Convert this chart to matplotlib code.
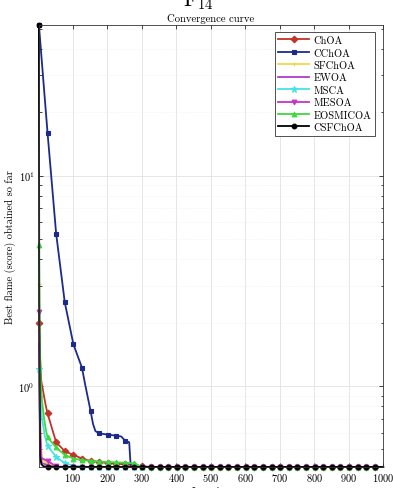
import matplotlib
matplotlib.use("Agg")
import matplotlib.pyplot as plt

plt.rcParams["font.family"] = ["cmr10", "DejaVu Serif"]
plt.rcParams["mathtext.fontset"] = "cm"
plt.rcParams["axes.formatter.use_mathtext"] = True

# Iterations where every curve is sampled and marked (every 25th iteration) plus the last one
GRID = list(range(1, 1001, 25)) + [1000]

NAMES = ["ChOA", "CChOA", "SFChOA", "EWOA", "MSCA", "MESOA", "EOSMICOA", "CSFChOA"]
COLORS = ["#c0342a", "#1c2a8c", "#f0d84a", "#b03cc8", "#45e3e3", "#c832c8", "#3fd83f", "#000000"]
MARKERS = ["D", "s", "+", "None", "*", "v", "^", "o"]

# Best fitness on the grid iterations (41 values each)
choa_grid = [2.0, 0.74, 0.54, 0.49, 0.47, 0.452, 0.44, 0.435, 0.43, 0.427, 0.424, 0.42, 0.415,
             0.412, 0.412, 0.412, 0.412, 0.412, 0.412, 0.412, 0.412, 0.412, 0.412, 0.412,
             0.412, 0.412, 0.412, 0.412, 0.412, 0.412, 0.412, 0.412, 0.412, 0.412, 0.412,
             0.412, 0.412, 0.412, 0.412, 0.412, 0.412]
cchoa_grid = [52.0, 16.0, 5.3, 2.5, 1.58, 1.22, 0.76, 0.595, 0.587, 0.58, 0.55, 0.412, 0.412,
              0.412, 0.412, 0.412, 0.412, 0.412, 0.412, 0.412, 0.412, 0.412, 0.412, 0.412,
              0.412, 0.412, 0.412, 0.412, 0.412, 0.412, 0.412, 0.412, 0.412, 0.412, 0.412,
              0.412, 0.412, 0.412, 0.412, 0.412, 0.412]
sfchoa_grid = [3.06, 0.425, 0.412, 0.412, 0.412, 0.412, 0.412, 0.412, 0.412, 0.412, 0.412,
               0.412, 0.412, 0.412, 0.412, 0.412, 0.412, 0.412, 0.412, 0.412, 0.412, 0.412,
               0.412, 0.412, 0.412, 0.412, 0.412, 0.412, 0.412, 0.412, 0.412, 0.412, 0.412,
               0.412, 0.412, 0.412, 0.412, 0.412, 0.412, 0.412, 0.412]
ewoa_grid = [1.6, 0.42, 0.412, 0.412, 0.412, 0.412, 0.412, 0.412, 0.412, 0.412, 0.412,
             0.412, 0.412, 0.412, 0.412, 0.412, 0.412, 0.412, 0.412, 0.412, 0.412, 0.412,
             0.412, 0.412, 0.412, 0.412, 0.412, 0.412, 0.412, 0.412, 0.412, 0.412, 0.412,
             0.412, 0.412, 0.412, 0.412, 0.412, 0.412, 0.412, 0.412]
msca_grid = [1.2, 0.52, 0.46, 0.43, 0.418, 0.414, 0.412, 0.412, 0.412, 0.412, 0.412,
             0.412, 0.412, 0.412, 0.412, 0.412, 0.412, 0.412, 0.412, 0.412, 0.412, 0.412,
             0.412, 0.412, 0.412, 0.412, 0.412, 0.412, 0.412, 0.412, 0.412, 0.412, 0.412,
             0.412, 0.412, 0.412, 0.412, 0.412, 0.412, 0.412, 0.412]
mesoa_grid = [2.25, 0.44, 0.415, 0.412, 0.412, 0.412, 0.412, 0.412, 0.412, 0.412, 0.412,
              0.412, 0.412, 0.412, 0.412, 0.412, 0.412, 0.412, 0.412, 0.412, 0.412, 0.412,
              0.412, 0.412, 0.412, 0.412, 0.412, 0.412, 0.412, 0.412, 0.412, 0.412, 0.412,
              0.412, 0.412, 0.412, 0.412, 0.412, 0.412, 0.412, 0.412]
eosmicoa_grid = [4.7, 0.57, 0.51, 0.47, 0.452, 0.444, 0.44, 0.437, 0.435, 0.433, 0.432, 0.428,
                 0.413, 0.412, 0.412, 0.412, 0.412, 0.412, 0.412, 0.412, 0.412, 0.412, 0.412,
                 0.412, 0.412, 0.412, 0.412, 0.412, 0.412, 0.412, 0.412, 0.412, 0.412, 0.412,
                 0.412, 0.412, 0.412, 0.412, 0.412, 0.412, 0.412]
csfchoa_grid = [52.0, 0.412, 0.412, 0.412, 0.412, 0.412, 0.412, 0.412, 0.412, 0.412, 0.412,
                0.412, 0.412, 0.412, 0.412, 0.412, 0.412, 0.412, 0.412, 0.412, 0.412, 0.412,
                0.412, 0.412, 0.412, 0.412, 0.412, 0.412, 0.412, 0.412, 0.412, 0.412, 0.412,
                0.412, 0.412, 0.412, 0.412, 0.412, 0.412, 0.412, 0.412]

# Extra samples between grid iterations, where the curves bend sharply
choa_extra_it = [4, 8, 14, 20]
choa_extra_val = [1.4, 1.05, 0.93, 0.82]
cchoa_extra_it = [135, 140, 158, 165, 240, 263, 266, 268]
cchoa_extra_val = [1.02, 0.93, 0.66, 0.61, 0.575, 0.54, 0.45, 0.412]
sfchoa_extra_it = [3, 6, 10]
sfchoa_extra_val = [1.0, 0.55, 0.45]
ewoa_extra_it = [3, 6, 10]
ewoa_extra_val = [0.8, 0.46, 0.43]
msca_extra_it = [5, 10, 18]
msca_extra_val = [0.9, 0.7, 0.58]
mesoa_extra_it = [3, 5, 8]
mesoa_extra_val = [1.2, 0.6, 0.455]
eosmicoa_extra_it = [3, 6, 10, 16, 21]
eosmicoa_extra_val = [2.0, 1.05, 0.85, 0.70, 0.62]
csfchoa_extra_it = [2, 4, 8, 14]
csfchoa_extra_val = [2.5, 0.47, 0.425, 0.415]

SERIES = [
    (choa_grid, choa_extra_it, choa_extra_val),
    (cchoa_grid, cchoa_extra_it, cchoa_extra_val),
    (sfchoa_grid, sfchoa_extra_it, sfchoa_extra_val),
    (ewoa_grid, ewoa_extra_it, ewoa_extra_val),
    (msca_grid, msca_extra_it, msca_extra_val),
    (mesoa_grid, mesoa_extra_it, mesoa_extra_val),
    (eosmicoa_grid, eosmicoa_extra_it, eosmicoa_extra_val),
    (csfchoa_grid, csfchoa_extra_it, csfchoa_extra_val),
]

fig = plt.figure(figsize=(3.93, 4.89), dpi=100)
ax = fig.add_axes([0.099, 0.043, 0.876, 0.904])

marked = set(GRID[:-1])
for name, color, marker, (grid_vals, ex_it, ex_val) in zip(NAMES, COLORS, MARKERS, SERIES):
    pts = sorted(list(zip(GRID, grid_vals)) + list(zip(ex_it, ex_val)))
    xs = [p[0] for p in pts]
    ys = [p[1] for p in pts]
    mk_idx = [i for i, x in enumerate(xs) if x in marked]
    ax.plot(xs, ys, color=color, lw=1.3, marker=marker, markevery=mk_idx,
            markersize=3.4 if marker != "*" else 5.0, markerfacecolor=color,
            markeredgecolor=color, markeredgewidth=0.8, label=name, clip_on=False)

ax.set_yscale("log")
ax.set_xlim(1, 1000)
ax.set_ylim(0.412, 52)
ax.set_xticks(range(100, 1001, 100))
ax.grid(True, which="major", color="#e2e2e2", lw=0.6)
ax.grid(True, which="minor", axis="y", color="#ececec", lw=0.5, ls=":")
ax.tick_params(which="both", direction="in", top=True, right=True, labelsize=7.5,
               length=3, width=0.5, pad=3)
ax.tick_params(which="minor", length=1.8)
for s in ax.spines.values():
    s.set_linewidth(0.6)
    s.set_color("#333333")

ax.set_title("Convergence curve", fontsize=7.7, pad=3)
ax.set_ylabel("Best flame (score) obtained so far", fontsize=7.5, labelpad=2)
fig.text(0.537, 0.004, "Iteration", fontsize=7.5, ha="center", va="top")
fig.text(0.505, 1 - 6 / 489, r"$\mathrm{F}_{14}$", fontsize=15, ha="center", va="baseline")

leg = ax.legend(loc="upper right", bbox_to_anchor=(0.977, 0.984), borderaxespad=0,
                fontsize=7.5, handlelength=3.0, labelspacing=0.28, borderpad=0.35,
                handletextpad=0.4, fancybox=False, framealpha=1, edgecolor="#333333")
leg.get_frame().set_linewidth(0.6)

fig.savefig("out.png", dpi=100)
